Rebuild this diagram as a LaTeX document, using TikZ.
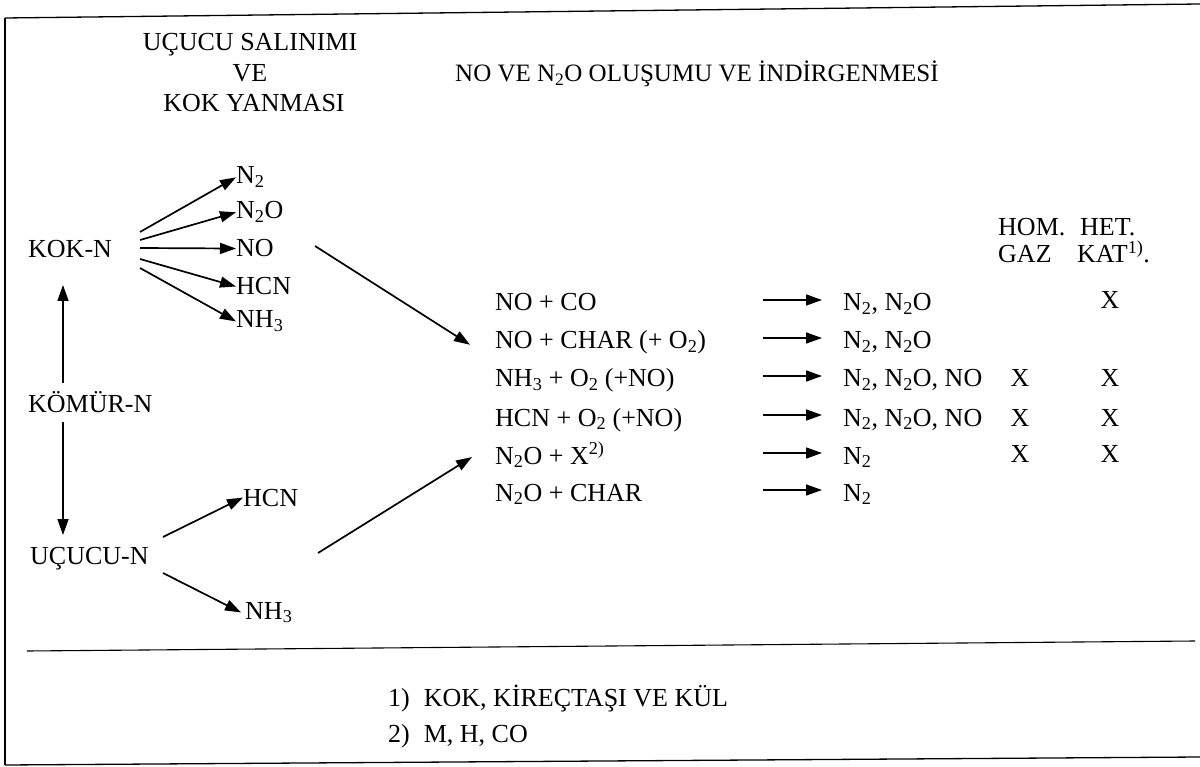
\documentclass[tikz,border=0pt]{standalone}
\usepackage{fontspec}
\setmainfont{Liberation Serif}
\usetikzlibrary{arrows.meta}
\begin{document}
\begin{tikzpicture}[x=1pt,y=-1pt,
  lbl/.style={inner sep=0pt,anchor=base west,font=\fontsize{26}{30}\selectfont},
  ctr/.style={inner sep=0pt,anchor=base,font=\fontsize{26}{30}\selectfont},
  arr/.style={line width=1.7pt,-{Triangle[length=16pt,width=11pt]}},
  frame/.style={line width=1.3pt}]
\useasboundingbox (0,0) rectangle (1200,767);
% frame
\draw[frame] (5,18) -- (5,765);
\draw[frame] (5,18) -- (1200,4);
\draw[frame] (5,765) -- (1200,757);
\draw[line width=1.1pt] (27,651) -- (1195,641);
% headers
\node[ctr] (h1) at (250,51) {UÇUCU SALINIMI};
\node[ctr] (h2) at (250,82) {VE};
\node[ctr] (h3) at (254,112) {KOK YANMASI};
\node[lbl,font=\fontsize{25}{30}\selectfont] (h4) at (455,82) {NO VE N\textsubscript{2}O OLUŞUMU VE İNDİRGENMESİ};
% left sources
\node[lbl] (kok) at (28,258) {KOK-N};
\node[lbl] (komur) at (28,412) {KÖMÜR-N};
\node[lbl] (ucucu) at (30,564) {UÇUCU-N};
% products of KOK-N
\node[lbl] (kn2) at (236,184) {N\textsubscript{2}};
\node[lbl] (kn2o) at (236,219) {N\textsubscript{2}O};
\node[lbl] (kno) at (236,257) {NO};
\node[lbl] (khcn) at (236,295) {HCN};
\node[lbl] (knh3) at (236,328) {NH\textsubscript{3}};
% products of UCUCU-N
\node[lbl] (uhcn) at (243,506) {HCN};
\node[lbl] (unh3) at (245,619) {NH\textsubscript{3}};
% branch arrows
\coordinate (k1) at (140,232);
\coordinate (k2) at (140,240);
\coordinate (k3) at (140,248);
\coordinate (k4) at (140,259);
\coordinate (k5) at (140,268);
\draw[arr] (k1) -- (kn2.west);
\draw[arr] (k2) -- (kn2o.west);
\draw[arr] (k3) -- (kno.west);
\draw[arr] (k4) -- (khcn.west);
\draw[arr] (k5) -- (knh3.west);
\coordinate (u1) at (163,537);
\coordinate (u2) at (163,573);
\draw[arr] (u1) -- (uhcn.west);
\draw[arr] (u2) -- ([xshift=-4pt]unh3.west);
% vertical arrows
\coordinate (v1) at (63,383);
\coordinate (v2) at (63,285);
\coordinate (v3) at (63,422);
\coordinate (v4) at (63,535);
\draw[arr] (v1) -- (v2);
\draw[arr] (v3) -- (v4);
% reactions
\node[lbl] (r1) at (495,311) {NO + CO};
\node[lbl] (r2) at (495,349) {NO + CHAR (+ O\textsubscript{2})};
\node[lbl] (r3) at (495,387) {NH\textsubscript{3} + O\textsubscript{2} (+NO)};
\node[lbl] (r4) at (495,426) {HCN + O\textsubscript{2} (+NO)};
\node[lbl] (r5) at (495,464) {N\textsubscript{2}O + X\textsuperscript{2)}};
\node[lbl] (r6) at (495,501) {N\textsubscript{2}O + CHAR};
% long arrows
\coordinate (l1) at (315,246);
\coordinate (l2) at (318,553);
\draw[arr] (l1) -- ([xshift=-25pt,yshift=-2pt]r2.west);
\draw[arr] (l2) -- ([xshift=-23pt,yshift=-2pt]r5.west);
% products
\node[lbl] (p1) at (843,311) {N\textsubscript{2}, N\textsubscript{2}O};
\node[lbl] (p2) at (843,349) {N\textsubscript{2}, N\textsubscript{2}O};
\node[lbl] (p3) at (843,387) {N\textsubscript{2}, N\textsubscript{2}O, NO};
\node[lbl] (p4) at (843,426) {N\textsubscript{2}, N\textsubscript{2}O, NO};
\node[lbl] (p5) at (843,464) {N\textsubscript{2}};
\node[lbl] (p6) at (843,501) {N\textsubscript{2}};
% middle arrows
\foreach \i/\y in {1/300,2/338,3/376,4/415,5/453,6/490}{
  \coordinate (ms\i) at (763,\y);
  \coordinate (me\i) at (822,\y);
  \draw[arr] (ms\i) -- (me\i);
}
% column headers
\node[lbl] (hom) at (998,236) {HOM.};
\node[lbl] (gaz) at (998,263) {GAZ};
\node[lbl] (het) at (1080,236) {HET.};
\node[lbl] (kat) at (1077,263) {KAT\textsuperscript{1)}.};
% X marks
\node[ctr] (x1k) at (1110,309) {X};
\node[ctr] (x3g) at (1020,387) {X};
\node[ctr] (x3k) at (1110,387) {X};
\node[ctr] (x4g) at (1020,426) {X};
\node[ctr] (x4k) at (1110,426) {X};
\node[ctr] (x5g) at (1020,462) {X};
\node[ctr] (x5k) at (1110,462) {X};
% footnotes
\node[lbl] (f1) at (388,706) {1)\hspace{14pt}KOK, KİREÇTAŞI VE KÜL};
\node[lbl] (f2) at (388,742) {2)\hspace{14pt}M, H, CO};
\end{tikzpicture}
\end{document}
